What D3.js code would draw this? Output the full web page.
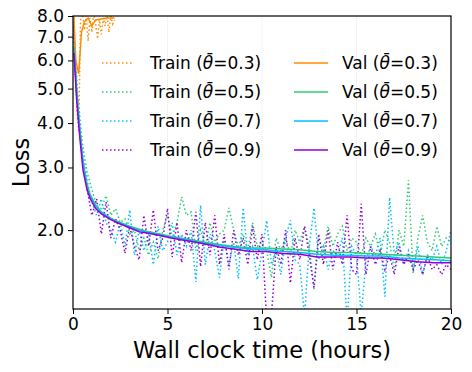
<!DOCTYPE html>
<html><head><meta charset="utf-8">
<script src="https://cdn.jsdelivr.net/npm/d3@7"></script>
<style>body{margin:0;background:#fff}svg{display:block;font-family:"DejaVu Sans",sans-serif}</style>
</head><body>
<svg id="c" width="472" height="372"></svg>
<script>
const thetas = ["0.3","0.5","0.7","0.9"];
const colors = ["#ff8c00","#2ecc71","#00bfff","#9400d3"];
const xTicks = [0,5,10,15,20];
const yTicks = [2,3,4,5,6,7,8];

// Train (evenly sampled every 0.25 h, from 0 h)
const trainStep = 0.25;
const train05 = [7.8,4.8,3.5,2.9,2.6,2.35,2.3,2.5,2.2,2.3,2.1,2.15,1.95,2.0,1.75,1.9,1.7,1.85,1.66,2.0,2.2,1.9,2.1,2.48,2.2,2.25,1.75,2.0,1.8,2.1,1.85,1.95,2.0,2.31,2.0,1.8,1.95,1.75,2.1,1.8,1.85,1.75,1.47,1.9,1.75,1.9,1.7,2.0,1.85,2.05,1.8,1.36,1.9,1.75,2.05,1.8,1.95,2.05,1.75,1.9,1.85,1.7,1.9,1.8,1.95,1.7,2.0,1.85,1.54,2.0,1.8,2.76,1.51,1.9,2.2,1.85,1.75,2.05,1.8,1.9,1.85];
const train07 = [7.8,4.5,3.3,2.75,2.4,2.2,2.45,2.1,2.0,1.85,2.1,1.8,2.28,1.7,2.0,1.75,1.95,1.6,2.05,1.75,1.85,2.1,1.7,1.95,1.8,2.0,1.43,2.35,1.6,1.95,1.75,1.47,1.9,1.6,1.85,1.46,2.31,1.7,1.8,1.45,1.75,2.13,1.6,1.75,1.5,1.9,2.13,1.65,1.6,1.15,1.8,2.31,1.65,1.8,1.55,1.75,1.7,1.9,1.1,1.8,1.7,1.15,1.65,1.8,1.7,1.9,1.3,2.47,1.7,1.85,1.6,1.75,1.55,1.8,1.5,1.7,1.65,1.8,1.6,1.75,2.0];
const train09 = [7.5,4.2,3.2,2.6,2.2,2.45,1.95,2.4,1.9,2.15,2.0,1.72,2.05,1.8,1.65,2.2,1.8,2.28,1.75,1.9,2.3,1.68,2.1,1.62,2.0,1.75,2.25,1.58,2.1,1.7,2.2,1.6,1.95,1.55,2.0,1.7,1.9,1.6,2.05,1.65,1.95,1.1,1.15,1.8,1.6,2.0,1.42,1.9,1.65,2.05,1.7,1.38,1.95,1.6,2.0,1.55,1.85,1.6,2.2,1.55,1.5,2.37,1.5,1.8,1.6,1.75,1.55,1.7,1.5,1.8,1.6,1.7,1.55,1.65,1.5,1.7,1.55,1.6,1.5,1.6,1.55];
// θ=0.3 diverged early
const train03Hours = [0,0.1,0.2,0.3,0.4,0.5,0.6,0.7,0.8,0.9,1.0,1.1,1.2,1.3,1.4,1.5,1.6,1.7,1.8,1.9,2.0,2.1,2.2];
const train03 = [9.0,6.5,4.5,3.8,7.8,8.2,7.3,8.0,6.8,7.9,7.2,8.1,7.6,6.9,7.8,7.1,7.9,7.5,8.1,7.2,8.0,7.6,7.8];

// Validation
const val03Hours = [0,0.15,0.3,0.45,0.6,0.8,1.0,1.2,1.5,1.8,2.2];
const val03 = [9.0,6.0,5.5,7.2,7.7,7.9,7.5,7.8,7.85,7.9,7.9];
const valHours = [0.05,0.2,0.37,0.53,0.74,0.9,1.2,1.5,2.0,2.5,3.0,3.5,4.0,4.6,5.2,5.7,6.2,6.7,7.2,7.8,8.5,9.4,10.2,11.1,12.0,12.9,13.8,14.7,15.5,16.4,17.3,18.2,19.1,20.0];
const val09 = [6.3,4.6,3.6,2.95,2.6,2.46,2.3,2.22,2.14,2.08,2.03,1.98,1.96,1.93,1.90,1.88,1.86,1.84,1.82,1.79,1.77,1.74,1.74,1.72,1.71,1.68,1.68,1.68,1.67,1.67,1.65,1.63,1.62,1.62];
const val07 = [6.5,4.8,3.75,3.05,2.65,2.5,2.33,2.24,2.15,2.09,2.04,2.0,1.97,1.94,1.91,1.89,1.87,1.85,1.83,1.81,1.79,1.77,1.76,1.74,1.73,1.71,1.70,1.70,1.69,1.69,1.67,1.66,1.65,1.64];
const val05 = [6.6,4.9,3.8,3.1,2.7,2.52,2.35,2.25,2.16,2.1,2.05,2.01,1.98,1.95,1.92,1.9,1.88,1.86,1.84,1.82,1.8,1.78,1.78,1.77,1.76,1.74,1.73,1.73,1.72,1.71,1.70,1.69,1.68,1.67];

const W=472,H=372, m={l:73,r:21,t:16,b:63};
const svg=d3.select("#c");
const x=d3.scaleLinear().domain([0,20]).range([m.l,W-m.r]);
const y=d3.scaleLog().domain([1.2,8]).range([H-m.b,m.t]);

svg.append("defs").append("clipPath").attr("id","clip").append("rect")
  .attr("x",m.l).attr("y",m.t).attr("width",W-m.r-m.l).attr("height",H-m.b-m.t);

// grid
svg.append("g").selectAll("line").data([5,10,15]).join("line")
  .attr("x1",d=>x(d)).attr("x2",d=>x(d)).attr("y1",m.t).attr("y2",H-m.b)
  .attr("stroke","#e2e2e2").attr("stroke-width",0.8).attr("stroke-dasharray","1,1");

const g=svg.append("g").attr("clip-path","url(#clip)");
const line=d3.line().x(d=>x(d[0])).y(d=>y(d[1]));
const step=(arr)=>arr.map((v,i)=>[i*trainStep,v]);
const pair=(hs,vs)=>hs.map((h,i)=>[h,vs[i]]);
const trains=[pair(train03Hours,train03),step(train05),step(train07),step(train09)];
const vals=[pair(val03Hours,val03),pair(valHours,val05),pair(valHours,val07),pair(valHours,val09)];
trains.forEach((d,i)=>g.append("path").datum(d).attr("d",line).attr("fill","none")
  .attr("stroke",colors[i]).attr("stroke-width",1.5).attr("stroke-dasharray","1.5,2.5"));
vals.forEach((d,i)=>g.append("path").datum(d).attr("d",line).attr("fill","none")
  .attr("stroke",colors[i]).attr("stroke-width",1.5));

// axes
const xa=svg.append("g").attr("transform",`translate(0,${H-m.b})`)
  .call(d3.axisBottom(x).tickValues(xTicks).tickFormat(d3.format("d")).tickSize(5).tickPadding(4));
const ya=svg.append("g").attr("transform",`translate(${m.l},0)`)
  .call(d3.axisLeft(y).tickValues(yTicks).tickFormat(d3.format(".1f")).tickSize(5).tickPadding(4));
[xa,ya].forEach(a=>{a.select(".domain").remove();
  a.selectAll("text").attr("font-size",17).attr("fill","#000").attr("font-family","DejaVu Sans");
  a.selectAll("line").attr("stroke","#000").attr("stroke-width",1);});
svg.append("rect").attr("x",m.l).attr("y",m.t).attr("width",W-m.r-m.l).attr("height",H-m.b-m.t)
  .attr("fill","none").attr("stroke","#000").attr("stroke-width",1.2);

svg.append("text").attr("x",(m.l+W-m.r)/2).attr("y",358).attr("text-anchor","middle")
  .attr("font-size",22.5).text("Wall clock time (hours)");
svg.append("text").attr("transform",`translate(29,${(m.t+H-m.b)/2}) rotate(-90)`).attr("text-anchor","middle")
  .attr("font-size",22.5).text("Loss");

// legend
const leg=svg.append("g");
const rowsY=[63,92,121,150];
function labelText(sel,prefix,t){
  sel.append("tspan").text(prefix+" (");
  sel.append("tspan").attr("font-style","italic").text("θ\u0304");
  sel.append("tspan").text("="+t+")");
}
thetas.forEach((t,i)=>{
  leg.append("line").attr("x1",102).attr("x2",133).attr("y1",rowsY[i]).attr("y2",rowsY[i])
    .attr("stroke",colors[i]).attr("stroke-width",1.5).attr("stroke-dasharray","1.5,2.5");
  labelText(leg.append("text").attr("x",150).attr("y",rowsY[i]).attr("dy","0.35em").attr("font-size",17),"Train",t);
  leg.append("line").attr("x1",294).attr("x2",328).attr("y1",rowsY[i]).attr("y2",rowsY[i])
    .attr("stroke",colors[i]).attr("stroke-width",1.5);
  labelText(leg.append("text").attr("x",342).attr("y",rowsY[i]).attr("dy","0.35em").attr("font-size",17),"Val",t);
});
</script>
</body></html>
